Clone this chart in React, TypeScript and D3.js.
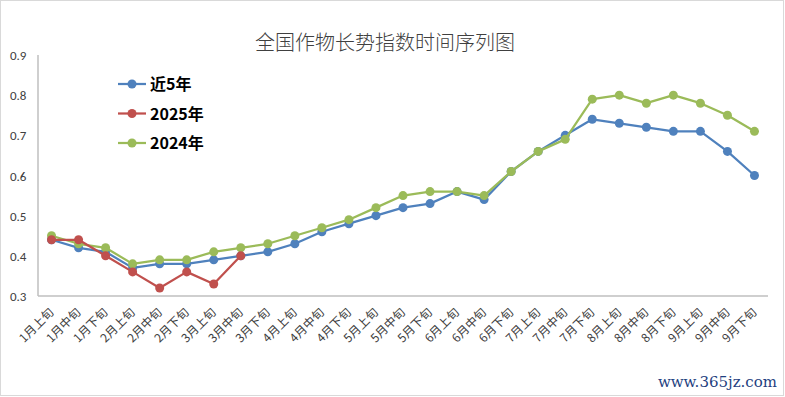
import React, { useEffect, useRef } from 'react';
import * as d3 from 'd3';

const periods = [
  '1月上旬', '1月中旬', '1月下旬', '2月上旬', '2月中旬', '2月下旬',
  '3月上旬', '3月中旬', '3月下旬', '4月上旬', '4月中旬', '4月下旬',
  '5月上旬', '5月中旬', '5月下旬', '6月上旬', '6月中旬', '6月下旬',
  '7月上旬', '7月中旬', '7月下旬', '8月上旬', '8月中旬', '8月下旬',
  '9月上旬', '9月中旬', '9月下旬'
];

const avg5 = [
  0.44, 0.42, 0.41, 0.37, 0.38, 0.38, 0.39, 0.40, 0.41, 0.43, 0.46, 0.48,
  0.50, 0.52, 0.53, 0.56, 0.54, 0.61, 0.66, 0.70, 0.74, 0.73, 0.72, 0.71,
  0.71, 0.66, 0.60
];

const y2025 = [0.44, 0.44, 0.40, 0.36, 0.32, 0.36, 0.33, 0.40];

const y2024 = [
  0.45, 0.43, 0.42, 0.38, 0.39, 0.39, 0.41, 0.42, 0.43, 0.45, 0.47, 0.49,
  0.52, 0.55, 0.56, 0.56, 0.55, 0.61, 0.66, 0.69, 0.79, 0.80, 0.78, 0.80,
  0.78, 0.75, 0.71
];

const yTicks = [0.3, 0.4, 0.5, 0.6, 0.7, 0.8, 0.9];

const seriesConfig = [
  { name: '近5年', values: avg5, color: '#4f81bd' },
  { name: '2025年', values: y2025, color: '#c0504d' },
  { name: '2024年', values: y2024, color: '#9bbb59' }
];

const width = 785;
const height = 397;
const margins = { l: 38, t: 55, r: 17, b: 101 };

const Chart = () => {
  const container = useRef(null);

  useEffect(() => {
    createChart();
  }, []);

  const createChart = () => {
    const svg = d3
      .select(container.current)
      .selectAll('svg')
      .data([0])
      .join('svg')
      .attr('width', width)
      .attr('height', height)
      .style('display', 'block');

    svg.selectAll('*').remove();

    const plotwidth = width - margins.l - margins.r;
    const plotheight = height - margins.t - margins.b;

    // chart frame
    svg
      .append('rect')
      .attr('x', 0.5)
      .attr('y', 0.5)
      .attr('width', width - 2)
      .attr('height', height - 2)
      .style('fill', '#fff')
      .style('stroke', '#d9d9d9');

    const xScale = d3
      .scaleBand()
      .domain(periods)
      .range([margins.l, margins.l + plotwidth]);

    const yScale = d3
      .scaleLinear()
      .domain([0.3, 0.9])
      .range([margins.t + plotheight, margins.t]);

    const cx = d => xScale(d) + xScale.bandwidth() / 2;

    // axes
    svg
      .append('line')
      .attr('x1', margins.l)
      .attr('x2', margins.l)
      .attr('y1', yScale(0.9))
      .attr('y2', yScale(0.3))
      .style('stroke', '#bfbfbf')
      .style('stroke-width', 1.5);

    svg
      .append('line')
      .attr('x1', margins.l)
      .attr('x2', margins.l + plotwidth)
      .attr('y1', yScale(0.3))
      .attr('y2', yScale(0.3))
      .style('stroke', '#bfbfbf')
      .style('stroke-width', 1.5);

    svg
      .selectAll('.ytick')
      .data(yTicks)
      .join('text')
      .attr('class', 'ytick')
      .attr('x', 10)
      .attr('y', d => yScale(d) + 5)
      .style('font-family', 'Calibri, Carlito, "Liberation Sans", sans-serif')
      .style('font-size', '13px')
      .style('fill', '#404040')
      .text(d => d3.format('.1f')(d));

    svg
      .selectAll('.xtick')
      .data(periods)
      .join('text')
      .attr('class', 'xtick')
      .attr('text-anchor', 'end')
      .attr('transform', d => `translate(${cx(d) + 3},${yScale(0.3) + 17})rotate(-45)`)
      .style('font-family', '"Noto Sans CJK SC", sans-serif')
      .style('font-size', '12px')
      .style('fill', '#404040')
      .text(d => d);

    const line = d3
      .line()
      .x((d, i) => cx(periods[i]))
      .y(d => yScale(d));

    // draw 近5年, 2024年 and 2025年 (red on top of blue)
    const drawOrder = [0, 2, 1];
    drawOrder.forEach(k => {
      const s = seriesConfig[k];
      const g = svg.append('g').attr('class', 'series');
      g.append('path')
        .attr('d', line(s.values))
        .style('fill', 'none')
        .style('stroke', s.color)
        .style('stroke-width', 2.25)
        .style('stroke-linejoin', 'round');
      g.selectAll('circle')
        .data(s.values)
        .join('circle')
        .attr('cx', (d, i) => cx(periods[i]))
        .attr('cy', d => yScale(d))
        .attr('r', 4.5)
        .style('fill', s.color);
    });

    // legend
    const legend = svg
      .append('g')
      .attr('transform', 'translate(118,84)');
    seriesConfig.forEach((s, i) => {
      const row = legend.append('g').attr('transform', `translate(0,${i * 29.5})`);
      row
        .append('line')
        .attr('x1', 0)
        .attr('x2', 28)
        .style('stroke', s.color)
        .style('stroke-width', 2.25);
      row.append('circle').attr('cx', 14).attr('r', 4.5).style('fill', s.color);
      row
        .append('text')
        .attr('x', 32)
        .attr('y', 6)
        .style('font-family', '"Noto Sans CJK SC", sans-serif')
        .style('font-size', '16px')
        .style('font-weight', 'bold')
        .style('fill', '#000')
        .text(s.name);
    });

    // title
    svg
      .append('text')
      .attr('x', 385)
      .attr('y', 50)
      .attr('text-anchor', 'middle')
      .style('font-family', '"Noto Sans CJK SC", sans-serif')
      .style('font-size', '20px')
      .style('font-weight', 300)
      .style('fill', '#404040')
      .text('全国作物长势指数时间序列图');

    // watermark
    svg
      .append('text')
      .attr('x', 777)
      .attr('y', 387)
      .attr('text-anchor', 'end')
      .style('font-family', '"DejaVu Serif", serif')
      .style('font-size', '15px')
      .style('fill', '#1f3f7f')
      .text('www.365jz.com');
  };

  return <div className="chart-container" ref={container}></div>;
};

export default function App() {
  return (
    <div style={{ position: 'fixed', left: 0, top: 0 }}>
      <Chart />
    </div>
  );
}
